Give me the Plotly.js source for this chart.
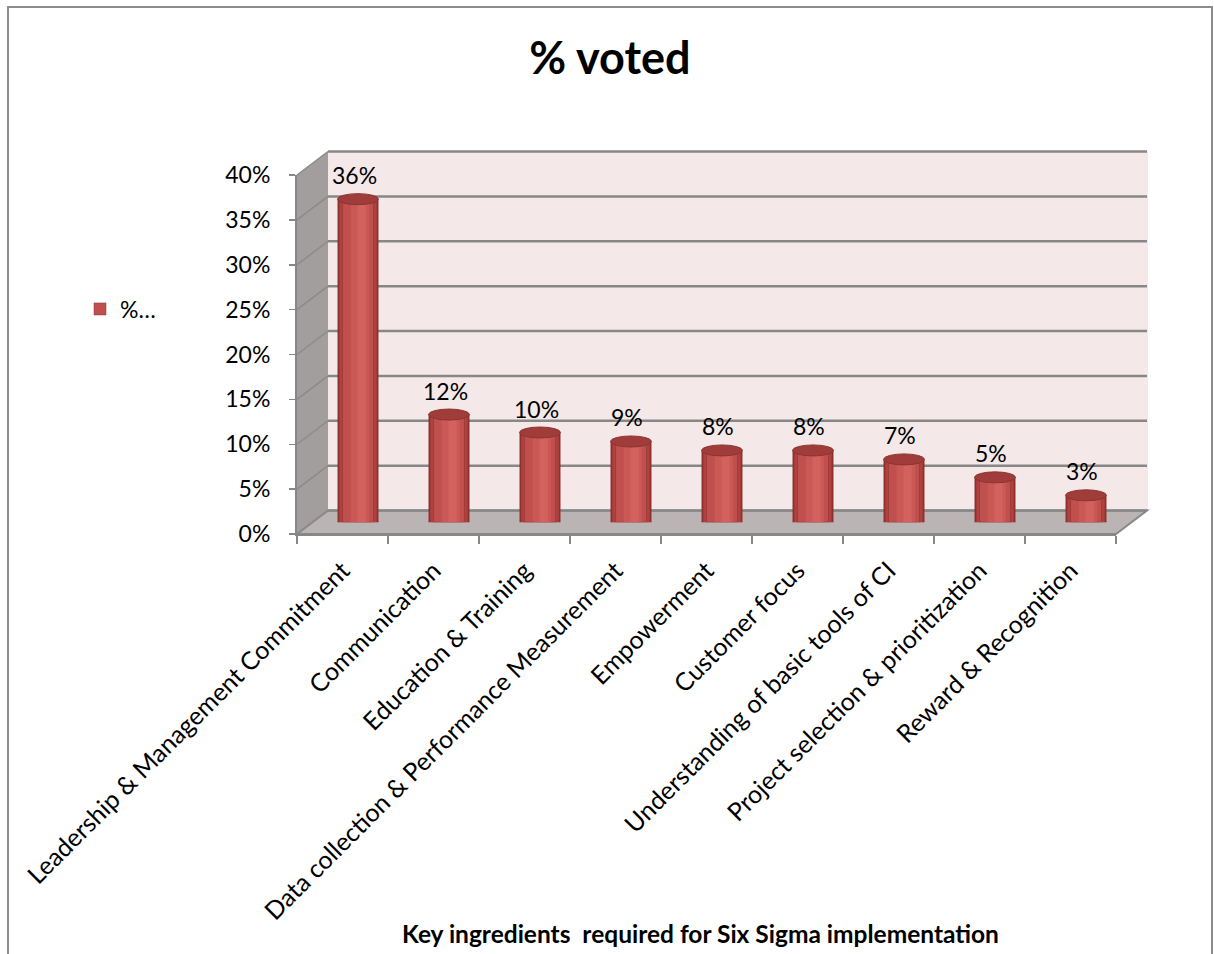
<!DOCTYPE html>
<html>
<head>
<meta charset="utf-8">
<script src="https://cdn.plot.ly/plotly-3.0.1.min.js"></script>
<style>html,body{margin:0;padding:0;background:#fff;}#chart{width:1214px;height:954px;}</style>
</head>
<body>
<div id="chart"></div>
<script>
// ---- data ----
var categories = [
  "Leadership & Management Commitment",
  "Communication",
  "Education & Training",
  "Data collection & Performance Measurement",
  "Empowerment",
  "Customer focus",
  "Understanding of basic tools of CI",
  "Project selection & prioritization",
  "Reward & Recognition"
];
var votedShare = [0.36, 0.12, 0.10, 0.09, 0.08, 0.08, 0.07, 0.05, 0.03];
var tickValues = [0, 0.05, 0.10, 0.15, 0.20, 0.25, 0.30, 0.35, 0.40];
var seriesName = "%\u2026";
var chartTitle = "% voted";
var xAxisTitle = "Key ingredients  required for Six Sigma implementation";

// ---- geometry (pixels) ----
var W = 1214, H = 954;
var FX0 = 297, FX1 = 1116, FY0 = 534, FY1 = 175; // front plane
var DX = 31, DY = -23.5;                         // depth offset to back wall
var YMAX = 0.4;
function px(x){ return x / W; }
function py(y){ return 1 - y / H; }
function yFront(v){ return FY0 + (FY1 - FY0) * v / YMAX; }
function yBack(v){ return yFront(v) + DY; }

var FONT = "Lato, 'Open Sans', sans-serif";
var idx = categories.map(function(_, i){ return i; });

// ---- cylinder bars: stacked overlay layers for shading ----
var layers = [
  {c: 0.00, w: 0.45, color: "#8E302E"},
  {c: 0.00, w: 0.41, color: "#AE423F"},
  {c: 0.00, w: 0.34, color: "#C0504D", legend: true},
  {c: 0.02, w: 0.20, color: "#CA5956"},
  {c: 0.04, w: 0.09, color: "#D3625F"}
];
var traces = [];
// helper trace to create the front-axes subplot
traces.push({type: "scatter", x: categories, y: [null], xaxis: "x", yaxis: "y",
  mode: "markers", showlegend: false, hoverinfo: "skip"});
layers.forEach(function(L){
  traces.push({
    type: "bar", x: idx, y: votedShare, xaxis: "x2", yaxis: "y2",
    width: L.w, offset: L.c - L.w / 2,
    marker: {color: L.color, line: {width: L.legend ? 0.5 : 0, color: "#8E302E"}},
    name: seriesName, showlegend: !!L.legend, hoverinfo: "skip"
  });
});

// ---- decorations (walls, floor, grid) ----
var shapes = [];
var gridColor = "#878787";
// back wall
shapes.push({type: "rect", xref: "paper", yref: "paper", layer: "below",
  x0: px(FX0 + DX), x1: px(FX1 + DX + 1), y0: py(yBack(0)), y1: py(yBack(YMAX)),
  fillcolor: "#F4E8E8", line: {width: 0}});
// side wall
shapes.push({type: "path", xref: "paper", yref: "paper", layer: "below",
  path: "M" + px(FX0) + "," + py(yFront(0)) + " L" + px(FX0) + "," + py(yFront(YMAX)) +
        " L" + px(FX0 + DX) + "," + py(yBack(YMAX)) + " L" + px(FX0 + DX) + "," + py(yBack(0)) + " Z",
  fillcolor: "#A29E9E", line: {width: 0}});
// floor
shapes.push({type: "path", xref: "paper", yref: "paper", layer: "below",
  path: "M" + px(FX0) + "," + py(yFront(0)) + " L" + px(FX0 + DX) + "," + py(yBack(0)) +
        " L" + px(FX1 + DX) + "," + py(yBack(0)) + " L" + px(FX1) + "," + py(yFront(0)) + " Z",
  fillcolor: "#BAB4B4", line: {color: gridColor, width: 2}});
// grid lines on back wall + side wall
tickValues.forEach(function(v){
  shapes.push({type: "line", xref: "paper", yref: "paper", layer: "below",
    x0: px(FX0 + DX), x1: px(FX1 + DX), y0: py(yBack(v)), y1: py(yBack(v)),
    line: {color: gridColor, width: 2.5}});
  shapes.push({type: "line", xref: "paper", yref: "paper", layer: "below",
    x0: px(FX0), x1: px(FX0 + DX), y0: py(yFront(v)), y1: py(yBack(v)),
    line: {color: "#8E8A8A", width: 1.5}});
});
// outer chart border
shapes.push({type: "rect", xref: "paper", yref: "paper", layer: "below",
  x0: px(8), x1: px(1212), y0: py(1000), y1: py(7),
  fillcolor: "rgba(0,0,0,0)", line: {color: "#8C8C8C", width: 2}});
// cylinder ends
votedShare.forEach(function(v, i){
  shapes.push({type: "circle", xref: "x2", yref: "y2", layer: "below",
    x0: i - 0.225, x1: i + 0.225, ysizemode: "pixel", yanchor: 0, y0: -5, y1: 5,
    fillcolor: "#A83F3C", line: {width: 0}});
  shapes.push({type: "circle", xref: "x2", yref: "y2", layer: "above",
    x0: i - 0.225, x1: i + 0.225, ysizemode: "pixel", yanchor: v, y0: -5.5, y1: 5.5,
    fillcolor: "#A03D3A", line: {color: "#8A3431", width: 1}});
});

// ---- data labels and axis title ----
var annotations = votedShare.map(function(v, i){
  return {xref: "x2", yref: "y2", x: i, y: v, yanchor: "bottom", yshift: 8, xshift: -4,
    text: Math.round(v * 100) + "%", showarrow: false,
    font: {family: FONT, size: 23, color: "#000"}};
});
annotations.push({xref: "paper", yref: "paper", x: px(700), y: py(933),
  xanchor: "center", yanchor: "middle", showarrow: false,
  text: "<b>" + xAxisTitle + "</b>", font: {family: FONT, size: 24.5, color: "#000"}});

var layout = {
  width: W, height: H,
  margin: {l: 0, r: 0, t: 0, b: 0},
  paper_bgcolor: "#fff", plot_bgcolor: "rgba(0,0,0,0)",
  title: {text: "<b>" + chartTitle + "</b>", x: px(610), xanchor: "center",
    y: py(58), yanchor: "middle", yref: "container",
    font: {family: FONT, size: 45, color: "#000"}},
  font: {family: FONT, color: "#000"},
  barmode: "overlay",
  showlegend: true,
  legend: {x: px(80), y: py(309), xanchor: "left", yanchor: "middle",
    bgcolor: "rgba(0,0,0,0)", font: {family: FONT, size: 23, color: "#000"}},
  xaxis: {domain: [px(FX0), px(FX1)], anchor: "y", type: "category",
    categoryorder: "array", categoryarray: categories, range: [-0.5, categories.length - 0.5],
    tickson: "boundaries", ticks: "outside", ticklen: 8, tickwidth: 1.5, tickcolor: gridColor,
    showline: true, linecolor: gridColor, linewidth: 2, showgrid: false, zeroline: false,
    tickangle: -45, ticklabelstandoff: 10,
    tickfont: {family: FONT, size: 25, color: "#000"}, fixedrange: true},
  yaxis: {domain: [py(FY0), py(FY1)], anchor: "x", range: [0, YMAX],
    tickvals: tickValues, tickformat: ".0%", ticks: "outside", ticklen: 6, tickwidth: 1.5,
    tickcolor: gridColor, showline: true, linecolor: gridColor, linewidth: 2,
    showgrid: false, zeroline: false, ticklabelstandoff: 14,
    tickfont: {family: FONT, size: 23, color: "#000"}, fixedrange: true},
  xaxis2: {domain: [px(FX0 + DX / 2), px(FX1 + DX / 2)], anchor: "y2",
    range: [-0.5, categories.length - 0.5], visible: false, fixedrange: true},
  yaxis2: {domain: [py(FY0 + DY / 2), py(FY1 + DY / 2)], anchor: "x2",
    range: [0, YMAX], visible: false, fixedrange: true},
  shapes: shapes,
  annotations: annotations
};

Plotly.newPlot("chart", traces, layout, {displayModeBar: false, staticPlot: true});
</script>
</body>
</html>
